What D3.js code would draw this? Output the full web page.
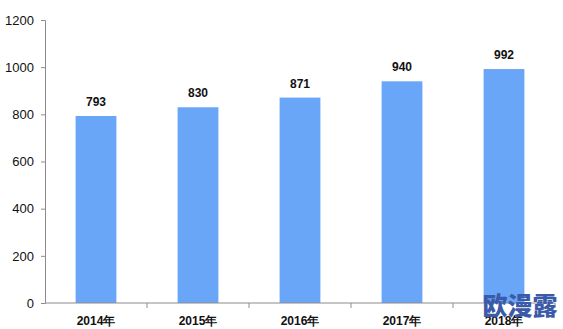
<!DOCTYPE html>
<html><head><meta charset="utf-8">
<script src="https://cdn.jsdelivr.net/npm/d3@7"></script>
<style>body{margin:0;background:#fff}svg{display:block}</style>
</head><body>
<svg id="c" width="563" height="329"></svg>
<script>
const categories = ["2014年","2015年","2016年","2017年","2018年"];
const values = [793, 830, 871, 940, 992];
const yTicks = [0,200,400,600,800,1000,1200];

const svg = d3.select("#c");
const x = d3.scaleBand().domain(categories).range([45, 555]).paddingInner(0.6).paddingOuter(0.3);
const y = d3.scaleLinear().domain([0,1200]).range([303, 20]);

// y axis
const ya = svg.append("g").attr("transform","translate(45,0)")
  .call(d3.axisLeft(y).tickValues(yTicks).tickFormat(d3.format("d")).tickSize(4).tickPadding(7));
ya.selectAll("path,line").attr("stroke","#8c8c8c");
ya.selectAll("text").attr("font-family","Arial, Liberation Sans, sans-serif").attr("font-size",13).attr("fill","#111");

// bars
svg.append("g").selectAll("rect").data(values).join("rect")
  .attr("x",(d,i)=>x(categories[i]))
  .attr("width",x.bandwidth())
  .attr("y",d=>y(d))
  .attr("height",d=>y(0)-y(d))
  .attr("fill","#6aa6f8");

// x axis
const xb = d3.scaleLinear().domain([0,categories.length]).range([45,555]);
const xa = svg.append("g").attr("transform","translate(0,303)");
xa.append("line").attr("x1",45).attr("x2",555).attr("stroke","#8c8c8c");
xa.selectAll("line.t").data(d3.range(1,categories.length+1)).join("line")
  .attr("class","t").attr("x1",d=>xb(d)).attr("x2",d=>xb(d)).attr("y1",0).attr("y2",5).attr("stroke","#8c8c8c");
xa.selectAll("text").data(categories).join("text")
  .attr("x",d=>x(d)+x.bandwidth()/2).attr("y",22)
  .attr("text-anchor","middle").attr("font-family","Arial, Liberation Sans, sans-serif")
  .attr("font-weight","bold").attr("font-size",12).attr("fill","#111").text(d=>d);

// value labels
svg.append("g").selectAll("text").data(values).join("text")
  .attr("x",(d,i)=>x(categories[i])+x.bandwidth()/2)
  .attr("y",d=>y(d)-10)
  .attr("text-anchor","middle").attr("font-family","Arial, Liberation Sans, sans-serif")
  .attr("font-weight","bold").attr("font-size",12).attr("fill","#111").text(d=>d);

// watermark (overlaps the last category label, as in the reference)
svg.append("text").attr("x",520).attr("y",315).attr("text-anchor","middle")
  .attr("font-family","Noto Sans CJK SC").attr("font-weight","900").attr("font-size",25)
  .attr("fill","#3b5ba8").text("欧漫露");
</script>
</body></html>
